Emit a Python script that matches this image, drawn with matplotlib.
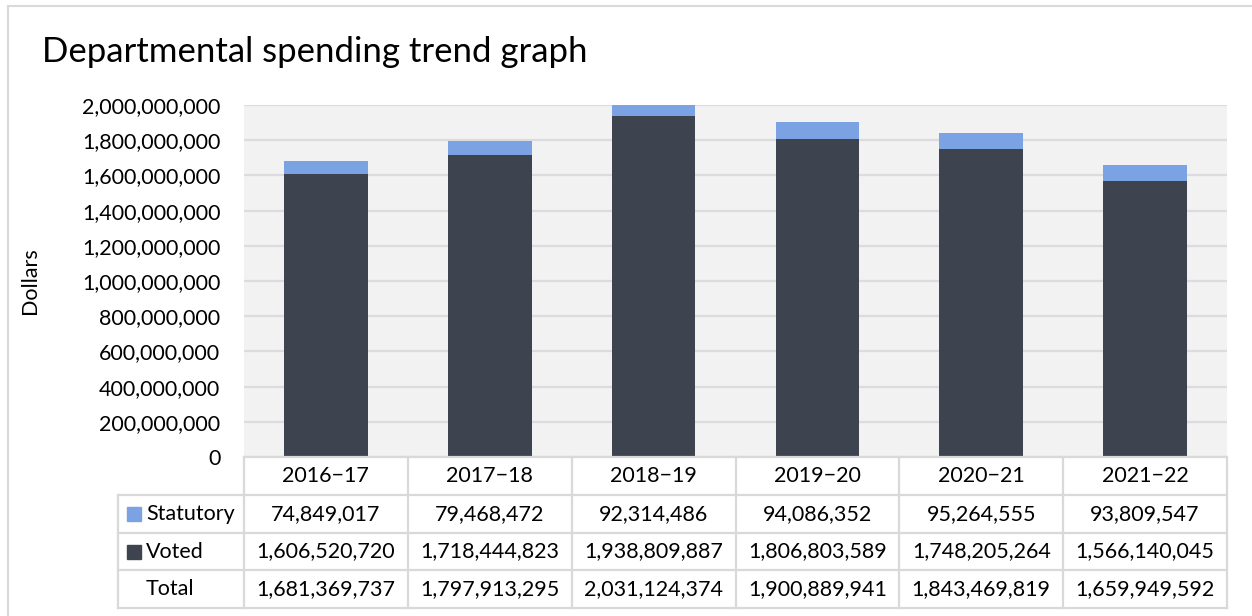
import matplotlib
matplotlib.use("Agg")
import matplotlib.pyplot as plt
from matplotlib.lines import Line2D
from matplotlib.patches import Rectangle

years = ["2016\u221217", "2017\u221218", "2018\u221219", "2019\u221220", "2020\u221221", "2021\u221222"]
statutory = [74849017, 79468472, 92314486, 94086352, 95264555, 93809547]
voted = [1606520720, 1718444823, 1938809887, 1806803589, 1748205264, 1566140045]
totals = [1681369737, 1797913295, 2031124374, 1900889941, 1843469819, 1659949592]

c_voted = "#3d4450"
c_stat = "#7ba3e3"
grid_c = "#dcdce0"

plt.rcParams['font.family'] = ['Lato', 'DejaVu Sans']
fs = 15.5

W, H = 1252, 616
fig = plt.figure(figsize=(W / 100, H / 100), dpi=100)

def fx(px):
    return px / W

def fy(py):
    return 1 - py / H

# plot area in pixels
L, R, T, B = 244, 1227, 105, 457
ax = fig.add_axes([fx(L), fy(B), fx(R - L), (B - T) / H])
ax.set_facecolor("#f2f2f2")
x = range(len(years))
ax.bar(x, voted, width=0.51, color=c_voted, zorder=3)
ax.bar(x, statutory, width=0.51, bottom=voted, color=c_stat, zorder=3)
ax.set_xlim(-0.5, len(years) - 0.5)
ax.set_ylim(0, 2000000000)
ax.set_yticks(range(0, 2000000001, 200000000))
ax.set_yticklabels([f"{v:,}" for v in range(0, 2000000001, 200000000)], fontsize=fs)
ax.set_xticks([])
ax.tick_params(axis="y", length=0, pad=17)
ax.yaxis.grid(True, color=grid_c, lw=1.6, zorder=0)
for s in ax.spines.values():
    s.set_visible(False)
ax.set_ylabel("Dollars", fontsize=fs)
ax.yaxis.set_label_coords(-0.208, 0.5)

fig.text(fx(42), fy(52), "Departmental spending trend graph", fontsize=25, va="center", ha="left")

# outer border (top & left)
fig.add_artist(Line2D([fx(8), 1], [fy(6), fy(6)], color="#d9d9d9", lw=1.5))
fig.add_artist(Line2D([fx(8), fx(8)], [fy(6), 0], color="#d9d9d9", lw=1.5))

# data table below the plot
TL = 118
rows_y = [457, 495, 533, 570, 608]
col_w = (R - L) / len(years)
lc = "#d9d9d9"
lw = 1.6
for i, yy in enumerate(rows_y):
    x0 = L if i == 0 else TL
    fig.add_artist(Line2D([fx(x0), fx(R)], [fy(yy), fy(yy)], color=lc, lw=lw))
for j in range(len(years) + 1):
    xx = L + j * col_w
    fig.add_artist(Line2D([fx(xx), fx(xx)], [fy(457), fy(608)], color=lc, lw=lw))
fig.add_artist(Line2D([fx(TL), fx(TL)], [fy(495), fy(608)], color=lc, lw=lw))

row_vals = [years, [f"{v:,}" for v in statutory], [f"{v:,}" for v in voted], [f"{v:,}" for v in totals]]
for r, vals in enumerate(row_vals):
    yc = (rows_y[r] + rows_y[r + 1]) / 2
    for j, v in enumerate(vals):
        fig.text(fx(L + (j + 0.5) * col_w), fy(yc), v, fontsize=fs, ha="center", va="center")

labels = ["Statutory", "Voted", "Total"]
swatches = [c_stat, c_voted, None]
for r, (lab, col) in enumerate(zip(labels, swatches)):
    yc = (rows_y[r + 1] + rows_y[r + 2]) / 2
    if col:
        fig.add_artist(Rectangle((fx(127), fy(yc + 7)), fx(14), 14 / H, color=col))
    fig.text(fx(146), fy(yc), lab, fontsize=fs, ha="left", va="center")

fig.savefig("out.png", dpi=100, facecolor="white")
